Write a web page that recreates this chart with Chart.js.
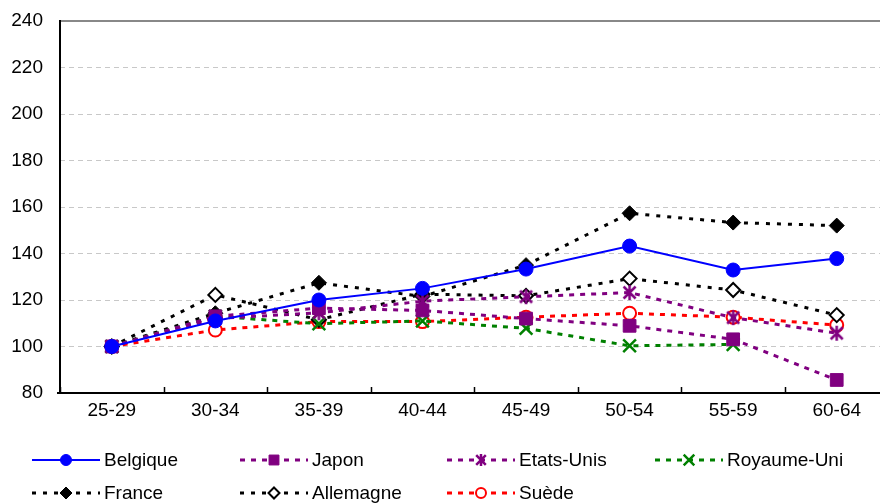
<!DOCTYPE html>
<html>
<head>
<meta charset="utf-8">
<script src="https://cdn.jsdelivr.net/npm/chart.js@4/dist/chart.umd.min.js"></script>
<style>
  html, body { margin: 0; padding: 0; background: #fff; overflow: hidden; }
  #wrap { width: 880px; height: 504px; overflow: hidden; position: relative; }
  canvas { display: block; }
</style>
</head>
<body>
<div id="wrap"><canvas id="c" width="900" height="504"></canvas></div>
<script>
// Age groups on the horizontal axis
const ageGroups = ['25-29', '30-34', '35-39', '40-44', '45-49', '50-54', '55-59', '60-64'];

// Index values (25-29 = 100) by country
const belgique   = [100, 111.0, 120.0, 125.0, 133.3, 143.2, 132.9, 137.8];
const japon      = [100, 113.0, 116.5, 115.5, 112.0, 108.9, 103.1, 85.6];
const etatsUnis  = [100, 112.0, 114.5, 119.5, 121.4, 123.2, 112.4, 105.7];
const royaumeUni = [100, 113.0, 109.8, 111.0, 107.8, 100.3, 100.9, null];
const france     = [100, 114.3, 127.4, 121.5, 135.0, 157.3, 153.3, 152.0];
const allemagne  = [100, 122.2, 111.5, 122.5, 121.8, 129.2, 124.3, 113.5];
const suede      = [100, 107.1, 110.7, 110.7, 112.6, 114.3, 112.6, 109.2];

// Value axis
const yMin = 80, yMax = 240, yStep = 20;

const FONT = "'Liberation Sans', Arial, Helvetica, sans-serif";

// Asterisk marker: an X crossed by a vertical stroke
function makeAsterisk(color, size, lw) {
  const cv = document.createElement('canvas');
  cv.width = size; cv.height = size;
  const g = cv.getContext('2d');
  g.strokeStyle = color; g.lineWidth = lw; g.lineCap = 'butt';
  const m = size / 2, r = size / 2 - 1;
  g.beginPath();
  g.moveTo(m - r * 0.8, m - r * 0.8); g.lineTo(m + r * 0.8, m + r * 0.8);
  g.moveTo(m + r * 0.8, m - r * 0.8); g.lineTo(m - r * 0.8, m + r * 0.8);
  g.moveTo(m, m - r); g.lineTo(m, m + r);
  g.stroke();
  return cv;
}
const asteriskBig = makeAsterisk('#800080', 17, 2.5);
const asteriskSmall = makeAsterisk('#800080', 14, 2.5);

const DASH = [5, 6];

const datasets = [
  { label: 'Belgique', data: belgique, borderColor: '#0000FF', backgroundColor: '#0000FF',
    borderWidth: 2, pointStyle: 'circle', pointRadius: 7, pointBorderWidth: 1,
    legendRadius: 5.5 },
  { label: 'Japon', data: japon, borderColor: '#800080', backgroundColor: '#800080',
    borderWidth: 3, borderDash: DASH, pointStyle: 'rect', pointRadius: 9, pointBorderWidth: 1,
    legendRadius: 7 },
  { label: 'Etats-Unis', data: etatsUnis, borderColor: '#800080', backgroundColor: '#800080',
    borderWidth: 3, borderDash: DASH, pointStyle: asteriskBig, pointRadius: 8,
    legendImage: asteriskSmall },
  { label: 'Royaume-Uni', data: royaumeUni, borderColor: '#008000', backgroundColor: '#008000',
    borderWidth: 3, borderDash: DASH, pointStyle: 'crossRot', pointRadius: 9, pointBorderWidth: 2.5,
    legendRadius: 7.5 },
  { label: 'France', data: france, borderColor: '#000000', backgroundColor: '#000000',
    borderWidth: 3, borderDash: [4, 7], pointStyle: 'rectRot', pointRadius: 7.5, pointBorderWidth: 1,
    legendRadius: 6 },
  { label: 'Allemagne', data: allemagne, borderColor: '#000000', backgroundColor: '#FFFFFF',
    borderWidth: 3, borderDash: [4, 7], pointStyle: 'rectRot', pointRadius: 7, pointBorderWidth: 2,
    legendRadius: 5.5 },
  { label: 'Suède', data: suede, borderColor: '#FF0000', backgroundColor: '#FFFFFF',
    borderWidth: 3, borderDash: DASH, pointStyle: 'circle', pointRadius: 6.5, pointBorderWidth: 2,
    legendRadius: 5 }
];
datasets.forEach(d => {
  d.pointBorderColor = d.borderColor;
  d.pointBackgroundColor = d.backgroundColor;
  d.tension = 0;
  d.spanGaps = false;
  d.fill = false;
  d.pointHoverRadius = d.pointRadius;
});

// Legend marker drawing (same shapes as the plot markers)
function drawMarker(ctx, ds, x, y) {
  ctx.save();
  ctx.setLineDash([]);
  if (ds.legendImage) {
    ctx.drawImage(ds.legendImage, x - ds.legendImage.width / 2, y - ds.legendImage.height / 2);
    ctx.restore();
    return;
  }
  const r = ds.legendRadius;
  ctx.fillStyle = ds.backgroundColor;
  ctx.strokeStyle = ds.borderColor;
  ctx.lineWidth = ds.pointBorderWidth || 1;
  ctx.beginPath();
  switch (ds.pointStyle) {
    case 'circle':
      ctx.arc(x, y, r, 0, Math.PI * 2);
      ctx.fill(); ctx.stroke();
      break;
    case 'rect': {
      const s = r * Math.SQRT1_2;
      ctx.rect(x - s, y - s, 2 * s, 2 * s);
      ctx.fill(); ctx.stroke();
      break;
    }
    case 'rectRot':
      ctx.moveTo(x, y - r); ctx.lineTo(x + r, y); ctx.lineTo(x, y + r); ctx.lineTo(x - r, y);
      ctx.closePath();
      ctx.fill(); ctx.stroke();
      break;
    case 'crossRot': {
      const s = r * Math.SQRT1_2;
      ctx.moveTo(x - s, y - s); ctx.lineTo(x + s, y + s);
      ctx.moveTo(x + s, y - s); ctx.lineTo(x - s, y + s);
      ctx.stroke();
      break;
    }
  }
  ctx.restore();
}

const frameAndLegend = {
  id: 'frameAndLegend',
  beforeDatasetsDraw(chart) {
    const { ctx, chartArea: a, scales: { x, y } } = chart;
    ctx.save();
    // top border of the plot area
    ctx.strokeStyle = '#888888';
    ctx.lineWidth = 2;
    ctx.beginPath();
    ctx.moveTo(a.left, y.getPixelForValue(yMax));
    ctx.lineTo(a.right + 10, y.getPixelForValue(yMax));
    ctx.stroke();
    // axes
    ctx.strokeStyle = '#000000';
    ctx.lineWidth = 2;
    ctx.beginPath();
    ctx.moveTo(a.left, y.getPixelForValue(yMax) - 1);
    ctx.lineTo(a.left, y.getPixelForValue(yMin));
    ctx.moveTo(a.left - 3, y.getPixelForValue(yMin));
    ctx.lineTo(a.right + 10, y.getPixelForValue(yMin));
    ctx.stroke();
    // inward tick marks between categories
    ctx.lineWidth = 1.5;
    ctx.beginPath();
    for (let i = 0; i <= ageGroups.length; i++) {
      const px = Math.round(x.getPixelForValue(i - 0.5)) + 0.5;
      ctx.moveTo(px, y.getPixelForValue(yMin));
      ctx.lineTo(px, y.getPixelForValue(yMin) - 6);
    }
    ctx.stroke();
    ctx.restore();
  },
  afterDraw(chart) {
    const { ctx } = chart;
    const cols = [32, 240, 447, 655];
    const rows = [460, 493];
    const sampleLen = 68;
    ctx.save();
    ctx.font = '19px ' + FONT;
    ctx.textBaseline = 'middle';
    ctx.textAlign = 'left';
    chart.data.datasets.forEach((ds, i) => {
      const cx = cols[i % 4];
      const cy = rows[Math.floor(i / 4)];
      ctx.save();
      ctx.strokeStyle = ds.borderColor;
      ctx.lineWidth = ds.borderWidth;
      ctx.setLineDash(ds.borderDash || []);
      ctx.beginPath();
      ctx.moveTo(cx, cy);
      ctx.lineTo(cx + sampleLen, cy);
      ctx.stroke();
      ctx.restore();
      drawMarker(ctx, ds, cx + sampleLen / 2, cy);
      ctx.fillStyle = '#000000';
      ctx.fillText(ds.label, cx + 72, cy + 1);
    });
    ctx.restore();
  }
};

new Chart(document.getElementById('c'), {
  type: 'line',
  data: { labels: ageGroups, datasets: datasets },
  options: {
    responsive: false,
    animation: false,
    devicePixelRatio: 1,
    layout: { padding: { top: 21, right: 9, left: 0, bottom: 0 } },
    plugins: {
      legend: { display: false },
      tooltip: { enabled: false },
      title: { display: false }
    },
    scales: {
      x: {
        type: 'category',
        offset: true,
        grid: { display: false, drawTicks: false },
        border: { display: false },
        ticks: {
          color: '#000000',
          font: { family: FONT, size: 19 },
          padding: 6,
          maxRotation: 0,
          autoSkip: false
        },
        afterFit(scale) {
          scale.height = 111;
          scale.paddingLeft = 0; scale.paddingRight = 0;
          scale.paddingTop = 0; scale.paddingBottom = 0;
        }
      },
      y: {
        min: yMin,
        max: yMax,
        grid: {
          drawTicks: false,
          lineWidth: 1,
          color: (c) => (c.tick && (c.tick.value === yMin || c.tick.value === yMax)) ? 'rgba(0,0,0,0)' : '#C8C8C8'
        },
        border: { display: false, dash: [5, 4] },
        ticks: {
          stepSize: yStep,
          color: '#000000',
          font: { family: FONT, size: 19 },
          padding: 17
        },
        afterFit(scale) {
          scale.width = 60;
          scale.paddingTop = 0; scale.paddingBottom = 0;
          scale.paddingLeft = 0; scale.paddingRight = 0;
        }
      }
    }
  },
  plugins: [frameAndLegend]
});
</script>
</body>
</html>
